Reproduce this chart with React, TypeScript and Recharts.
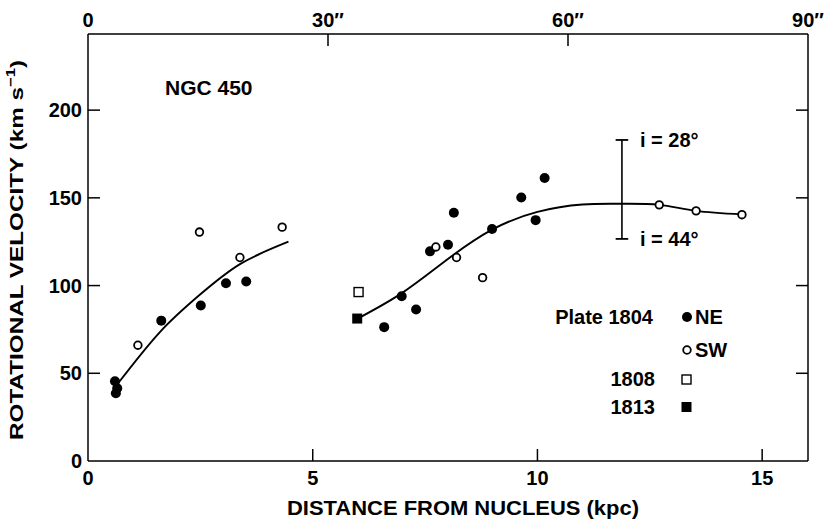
import {
  ComposedChart,
  Line,
  Scatter,
  XAxis,
  YAxis,
  ReferenceLine,
} from 'recharts'

// NGC 450 rotation curve (distance in kpc, velocity in km/s)
const plate1804NE = [
  { x: 0.6, y: 45.5 },
  { x: 0.65, y: 41.5 },
  { x: 0.62, y: 38.6 },
  { x: 1.63, y: 80 },
  { x: 2.51, y: 88.6 },
  { x: 3.07, y: 101.3 },
  { x: 3.52, y: 102.3 },
  { x: 6.59, y: 76.3 },
  { x: 6.98, y: 93.9 },
  { x: 7.3, y: 86.4 },
  { x: 7.61, y: 119.5 },
  { x: 8.01, y: 123.3 },
  { x: 8.14, y: 141.5 },
  { x: 8.99, y: 132.2 },
  { x: 9.64, y: 150.2 },
  { x: 9.96, y: 137.3 },
  { x: 10.16, y: 161.3 },
]

const plate1804SW = [
  { x: 1.11, y: 66 },
  { x: 2.48, y: 130.5 },
  { x: 3.38, y: 116 },
  { x: 4.32, y: 133.3 },
  { x: 7.74, y: 122 },
  { x: 8.2, y: 116 },
  { x: 8.78, y: 104.5 },
  { x: 12.71, y: 146 },
  { x: 13.53, y: 142.6 },
  { x: 14.55, y: 140.4 },
]

const plate1808 = [{ x: 6.02, y: 96.3 }]
const plate1813 = [{ x: 5.99, y: 81.2 }]

// hand-drawn fitted curves
const innerCurve = [
  { x: 0.67, y: 44.3 },
  { x: 1.6, y: 73.5 },
  { x: 2.5, y: 95 },
  { x: 3.4, y: 112.5 },
  { x: 4.46, y: 125 },
]

const outerCurve = [
  { x: 6.0, y: 81.2 },
  { x: 7.0, y: 96 },
  { x: 8.0, y: 115 },
  { x: 9.0, y: 132 },
  { x: 10.0, y: 142 },
  { x: 11.0, y: 146.2 },
  { x: 11.88, y: 146.6 },
  { x: 12.71, y: 146 },
  { x: 13.53, y: 142.6 },
  { x: 14.55, y: 140.6 },
]

// inclination range bar at ~11.9 kpc
const barX = 11.88
const barTop = 183
const barBottom = 126.6

const kpcTicks = [0, 5, 10, 15]
const arcsecTicks = [0, 30, 60, 90]
const velocityTicks = [0, 50, 100, 150, 200]

// keeps the arcsec axis alive (it carries no series of its own)
const arcsecAnchor = arcsecTicks.map((v) => ({ x: v, y: 0 }))

const FONT = 'Liberation Sans, Arial, sans-serif'
const TICK_LEN = 12
const FS = 20

const BottomTick = (props: any) => {
  const { x, y, payload } = props
  return (
    <g>
      {payload.value !== 0 && (
        <line x1={x} y1={y} x2={x} y2={y - TICK_LEN} stroke="#000" strokeWidth={1.5} />
      )}
      <text x={x} y={y + 24} textAnchor="middle" fontFamily={FONT} fontWeight="bold" fontSize={FS} fill="#000">
        {payload.value}
      </text>
    </g>
  )
}

const TopTick = (props: any) => {
  const { x, y, payload } = props
  const v = payload.value
  return (
    <g>
      {v !== 0 && v !== 90 && (
        <line x1={x} y1={y} x2={x} y2={y + TICK_LEN} stroke="#000" strokeWidth={1.5} />
      )}
      <text x={x} y={y - 7} textAnchor="middle" fontFamily={FONT} fontWeight="bold" fontSize={FS} fill="#000">
        {v === 0 ? '0' : `${v}″`}
      </text>
    </g>
  )
}

const LeftTick = (props: any) => {
  const { x, y, payload } = props
  return (
    <g>
      {payload.value !== 0 && (
        <line x1={x} y1={y} x2={x + TICK_LEN} y2={y} stroke="#000" strokeWidth={1.5} />
      )}
      <text x={x - 6} y={y + 7} textAnchor="end" fontFamily={FONT} fontWeight="bold" fontSize={FS} fill="#000">
        {payload.value}
      </text>
    </g>
  )
}

const RightTick = (props: any) => {
  const { x, y, payload } = props
  if (payload.value === 0) return <g />
  return <line x1={x} y1={y} x2={x - TICK_LEN} y2={y} stroke="#000" strokeWidth={1.5} />
}

const FilledDot = (p: any) => <circle cx={p.cx} cy={p.cy} r={5} fill="#000" />
const OpenDot = (p: any) => (
  <circle cx={p.cx} cy={p.cy} r={3.8} fill="#fff" stroke="#000" strokeWidth={1.8} />
)
const OpenSquare = (p: any) => (
  <rect x={p.cx - 4.5} y={p.cy - 4.5} width={9} height={9} fill="#fff" stroke="#000" strokeWidth={1.4} />
)
const FilledSquare = (p: any) => (
  <rect x={p.cx - 5} y={p.cy - 5} width={10} height={10} fill="#000" />
)
const Nothing = () => <g />

const txt = {
  fontFamily: FONT,
  fontWeight: 'bold' as const,
  fontSize: FS,
  fill: '#000',
}

const App = () => {
  return (
    <div style={{ position: 'absolute', left: 0, top: 0, width: 828, height: 522, background: '#fff' }}>
      <ComposedChart width={828} height={522} margin={{ top: 0, right: 0, bottom: 0, left: 0 }}>
        <XAxis
          xAxisId="kpc"
          dataKey="x"
          type="number"
          domain={[0, 16.02]}
          ticks={kpcTicks}
          tick={<BottomTick />}
          tickLine={false}
          tickSize={0}
          tickMargin={0}
          height={61}
          axisLine={{ stroke: '#000', strokeWidth: 1.5 }}
          allowDataOverflow
        />
        <XAxis
          xAxisId="arc"
          dataKey="x"
          orientation="top"
          type="number"
          domain={[0, 90]}
          ticks={arcsecTicks}
          tick={<TopTick />}
          tickLine={false}
          tickSize={0}
          tickMargin={0}
          height={34}
          axisLine={{ stroke: '#000', strokeWidth: 1.5 }}
          allowDataOverflow
        />
        <YAxis
          yAxisId="v"
          dataKey="y"
          type="number"
          domain={[0, 243.4]}
          ticks={velocityTicks}
          tick={<LeftTick />}
          tickLine={false}
          tickSize={0}
          tickMargin={0}
          width={88}
          axisLine={{ stroke: '#000', strokeWidth: 1.5 }}
          allowDataOverflow
        />
        <YAxis
          yAxisId="r"
          dataKey="y"
          orientation="right"
          type="number"
          domain={[0, 243.4]}
          ticks={velocityTicks}
          tick={<RightTick />}
          tickLine={false}
          tickSize={0}
          tickMargin={0}
          width={20}
          axisLine={{ stroke: '#000', strokeWidth: 1.5 }}
          allowDataOverflow
        />

        <Scatter xAxisId="arc" yAxisId="r" data={arcsecAnchor} dataKey="y" shape={<Nothing />} isAnimationActive={false} />

        <ReferenceLine
          xAxisId="kpc"
          yAxisId="v"
          segment={[{ x: barX, y: barBottom }, { x: barX, y: barTop }]}
          stroke="#000"
          strokeWidth={1.6}
        />
        <ReferenceLine
          xAxisId="kpc"
          yAxisId="v"
          segment={[{ x: barX - 0.14, y: barTop }, { x: barX + 0.14, y: barTop }]}
          stroke="#000"
          strokeWidth={1.8}
        />
        <ReferenceLine
          xAxisId="kpc"
          yAxisId="v"
          segment={[{ x: barX - 0.14, y: barBottom }, { x: barX + 0.14, y: barBottom }]}
          stroke="#000"
          strokeWidth={1.8}
        />

        <Line
          xAxisId="kpc"
          yAxisId="v"
          data={innerCurve}
          dataKey="y"
          type="natural"
          stroke="#000"
          strokeWidth={1.9}
          dot={false}
          isAnimationActive={false}
        />
        <Line
          xAxisId="kpc"
          yAxisId="v"
          data={outerCurve}
          dataKey="y"
          type="natural"
          stroke="#000"
          strokeWidth={1.9}
          dot={false}
          isAnimationActive={false}
        />

        <Scatter xAxisId="kpc" yAxisId="v" data={plate1804NE} dataKey="y" shape={<FilledDot />} isAnimationActive={false} />
        <Scatter xAxisId="kpc" yAxisId="v" data={plate1804SW} dataKey="y" shape={<OpenDot />} isAnimationActive={false} />
        <Scatter xAxisId="kpc" yAxisId="v" data={plate1808} dataKey="y" shape={<OpenSquare />} isAnimationActive={false} />
        <Scatter xAxisId="kpc" yAxisId="v" data={plate1813} dataKey="y" shape={<FilledSquare />} isAnimationActive={false} />
      </ComposedChart>

      <svg
        width={828}
        height={522}
        style={{ position: 'absolute', left: 0, top: 0, pointerEvents: 'none' }}
      >
        <text x={165} y={95} {...txt} fontSize={21}>NGC 450</text>

        <text
          {...txt}
          fontSize={19}
          textAnchor="middle"
          transform="translate(23 250) rotate(-90)"
          textLength={380}
          lengthAdjust="spacingAndGlyphs"
        >
          ROTATIONAL VELOCITY (km s
          <tspan fontSize={13} dy={-8}>−1</tspan>
          <tspan dy={8}>)</tspan>
        </text>

        <text
          x={463}
          y={515}
          {...txt}
          textAnchor="middle"
          textLength={352}
          lengthAdjust="spacingAndGlyphs"
        >
          DISTANCE FROM NUCLEUS (kpc)
        </text>

        <text x={640} y={147} {...txt}>i = 28°</text>
        <text x={640} y={246} {...txt}>i = 44°</text>

        <text x={653} y={324} {...txt} textAnchor="end">Plate 1804</text>
        <circle cx={687} cy={317} r={5} fill="#000" />
        <text x={695} y={324} {...txt}>NE</text>
        <circle cx={687} cy={350} r={3.8} fill="#fff" stroke="#000" strokeWidth={1.8} />
        <text x={695} y={357} {...txt}>SW</text>
        <text x={655} y={386} {...txt} textAnchor="end">1808</text>
        <rect x={682} y={375} width={9} height={9} fill="#fff" stroke="#000" strokeWidth={1.4} />
        <text x={655} y={414} {...txt} textAnchor="end">1813</text>
        <rect x={681.5} y={402} width={10} height={10} fill="#000" />
      </svg>
    </div>
  )
}

export default App
